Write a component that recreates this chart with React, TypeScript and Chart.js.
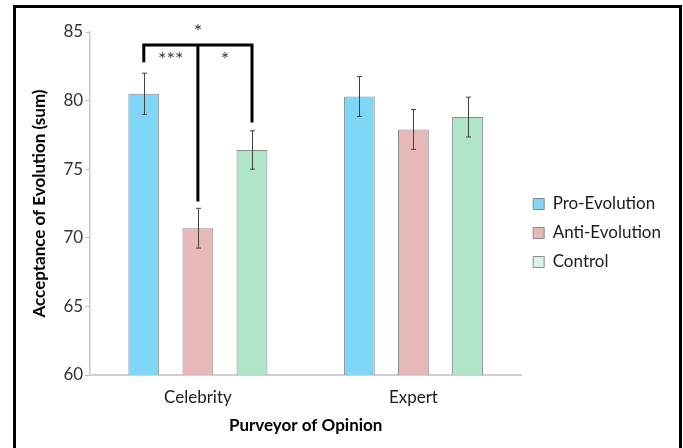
import React, { useEffect, useRef } from "react";
import { Chart, registerables } from "chart.js";

Chart.register(...registerables);

const categories = ["Celebrity", "Expert"];
const seriesNames = ["Pro-Evolution", "Anti-Evolution", "Control"];
const proValues = [80.5, 80.3];
const antiValues = [70.7, 77.9];
const controlValues = [76.4, 78.8];
const proErrors = [1.5, 1.45];
const antiErrors = [1.45, 1.45];
const controlErrors = [1.4, 1.45];

// significance bracket (Celebrity group): top line value and leg end values per series
const bracketTop = 84.05;
const bracketLegEnds = [82.8, 72.65, 78.4];
const starLabels = ["*", "***", "*"];
const starValues = [85.3, 83.3, 83.3];

const FONT = 'Lato, "Open Sans", sans-serif';

const fills = ["#7fd6f6", "#e6b9b8", "#b1e5c8"];
const legendFills = ["#7fd6f6", "#e6b9b8", "#dcf0e3"];

export default function App() {
  const ref = useRef<HTMLCanvasElement | null>(null);

  useEffect(() => {
    document.body.style.margin = "0";
    const errors = [proErrors, antiErrors, controlErrors];

    const overlay = {
      id: "overlay",
      afterDatasetsDraw(chart: any) {
        const ctx = chart.ctx;
        const y = chart.scales.y;
        ctx.save();
        // error bars
        ctx.strokeStyle = "#404040";
        ctx.lineWidth = 1;
        chart.data.datasets.forEach((ds: any, di: number) => {
          const meta = chart.getDatasetMeta(di);
          meta.data.forEach((bar: any, i: number) => {
            const v = ds.data[i];
            const e = errors[di][i];
            const x = Math.round(bar.x) + 0.5;
            const yt = y.getPixelForValue(v + e);
            const yb = y.getPixelForValue(v - e);
            ctx.beginPath();
            ctx.moveTo(x, yt);
            ctx.lineTo(x, yb);
            ctx.moveTo(x - 2.5, yt);
            ctx.lineTo(x + 2.5, yt);
            ctx.moveTo(x - 2.5, yb);
            ctx.lineTo(x + 2.5, yb);
            ctx.stroke();
          });
        });
        // significance bracket
        const xs = [0, 1, 2].map((di) => chart.getDatasetMeta(di).data[0].x);
        const yTop = y.getPixelForValue(bracketTop);
        ctx.strokeStyle = "#000";
        ctx.lineWidth = 3;
        ctx.lineCap = "butt";
        ctx.beginPath();
        ctx.moveTo(xs[0] - 1.5, yTop);
        ctx.lineTo(xs[2] + 1.5, yTop);
        xs.forEach((x: number, i: number) => {
          ctx.moveTo(x, yTop);
          ctx.lineTo(x, y.getPixelForValue(bracketLegEnds[i]));
        });
        ctx.stroke();
        // stars
        ctx.fillStyle = "#3a3a3a";
        ctx.font = `20px ${FONT}`;
        ctx.textAlign = "center";
        ctx.textBaseline = "middle";
        const starXs = [xs[1], (xs[0] + xs[1]) / 2, (xs[1] + xs[2]) / 2];
        starLabels.forEach((s, i) => {
          ctx.fillText(s, starXs[i], y.getPixelForValue(starValues[i]) + 4);
        });
        ctx.restore();
      },
    };

    const chart = new Chart(ref.current as HTMLCanvasElement, {
      type: "bar",
      data: {
        labels: categories,
        datasets: [proValues, antiValues, controlValues].map((d, i) => ({
          label: seriesNames[i],
          data: d,
          backgroundColor: fills[i],
          borderColor: "#8a8a8a",
          borderWidth: 1,
          categoryPercentage: 0.753,
          barPercentage: 0.57,
        })),
      },
      options: {
        animation: false,
        responsive: false,
        maintainAspectRatio: false,
        layout: { padding: { top: 32, left: 29, right: 12, bottom: 14 } },
        plugins: {
          tooltip: { enabled: false },
          legend: {
            position: "right",
            labels: {
              boxWidth: 11,
              boxHeight: 11,
              padding: 12,
              color: "#1a1a1a",
              font: { family: FONT, size: 17 },
              generateLabels: (c: any) => {
                const items = (Chart.defaults.plugins.legend.labels as any).generateLabels(c);
                items.forEach((it: any, i: number) => {
                  it.fillStyle = legendFills[i];
                  it.strokeStyle = "#8a8a8a";
                  it.lineWidth = 1;
                });
                return items;
              },
            },
          },
        },
        scales: {
          x: {
            grid: { display: false, drawTicks: false, tickLength: 0 },
            border: { display: true, color: "#d0d0d0", width: 2 },
            ticks: { color: "#1a1a1a", font: { family: FONT, size: 17, lineHeight: 1.0 }, padding: 14.5 },
            title: {
              display: true,
              text: "Purveyor of Opinion",
              color: "#000",
              font: { family: FONT, size: 17, weight: "bold", lineHeight: 1.0 },
              padding: { top: -4, bottom: 0 },
            },
          },
          y: {
            min: 60,
            max: 85,
            ticks: { stepSize: 5, color: "#333", font: { family: FONT, size: 17 }, padding: 2 },
            grid: { display: true, drawOnChartArea: false, drawTicks: true, tickLength: 5, color: "#bfbfbf" },
            border: { display: true, color: "#c8c8c8", width: 1.5 },
            title: {
              display: true,
              text: "Acceptance of Evolution (sum)",
              color: "#000",
              font: { family: FONT, size: 17, weight: "bold" },
              padding: { top: 0, bottom: 12 },
            },
          },
        },
      },
      plugins: [overlay],
    } as any);
    return () => chart.destroy();
  }, []);

  return (
    <div style={{ position: "relative", width: 683, height: 448, background: "#fff", overflow: "hidden" }}>
      <canvas ref={ref} width={683} height={448} style={{ position: "absolute", left: 0, top: 0 }} />
      <div
        style={{
          position: "absolute",
          left: 13,
          top: 5,
          width: 663,
          height: 460,
          border: "3px solid #000",
          borderBottom: "none",
          pointerEvents: "none",
        }}
      />
    </div>
  );
}
